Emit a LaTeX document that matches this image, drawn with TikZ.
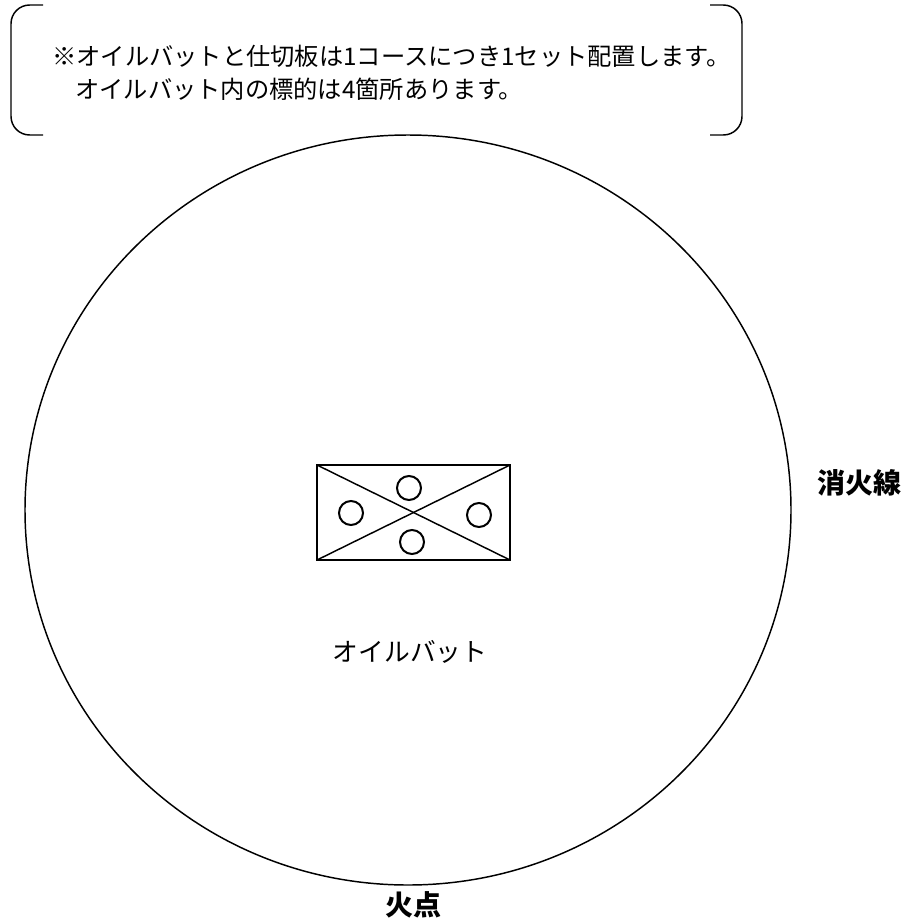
\documentclass[tikz,border=0pt]{standalone}
\usepackage{fontspec}
\setmainfont{Noto Sans CJK JP}
\begin{document}
\begin{tikzpicture}[x=0.75pt,y=-0.75pt,
  thinline/.style={line width=1.1pt},
  note/.style={anchor=west,inner sep=0pt,font=\fontsize{18.2pt}{22pt}\selectfont},
  labelbold/.style={inner sep=0pt,font=\fontsize{21pt}{24pt}\selectfont\bfseries},
  target/.style={circle,draw,line width=1.5pt,minimum size=18pt,inner sep=0pt}]
\useasboundingbox (0,0) rectangle (906,921);
% bracket
\draw[thinline,rounded corners=14pt] (43,5) -- (11,5) -- (11,135) -- (43,135);
\draw[thinline,rounded corners=14pt] (710,5) -- (742,5) -- (742,135) -- (710,135);
\node[note] (n1) at (52,56) {※オイルバットと仕切板は1コースにつき1セット配置します。};
\node[note] (n2) at (75,89) {オイルバット内の標的は4箇所あります。};
% field circle
\draw[thinline] (408,510) ellipse [x radius=383, y radius=375];
% oil vat
\draw[line width=1.7pt] (317,465) rectangle (510,560);
\coordinate (tl) at (317,465);
\coordinate (br) at (510,560);
\coordinate (tr) at (510,465);
\coordinate (bl) at (317,560);
\draw[thinline] (tl) -- (br);
\draw[thinline] (tr) -- (bl);
\node[target] (t1) at (409,488) {};
\node[target] (t2) at (351,513) {};
\node[target] (t3) at (479,515) {};
\node[target] (t4) at (412,542) {};
\node[inner sep=0pt,font=\fontsize{19.3pt}{22pt}\selectfont] (vat) at (410,652) {オイルバット};
\node[labelbold] (line) at (859,483) {消火線};
\node[labelbold] (fire) at (413,905) {火点};
\end{tikzpicture}
\end{document}
